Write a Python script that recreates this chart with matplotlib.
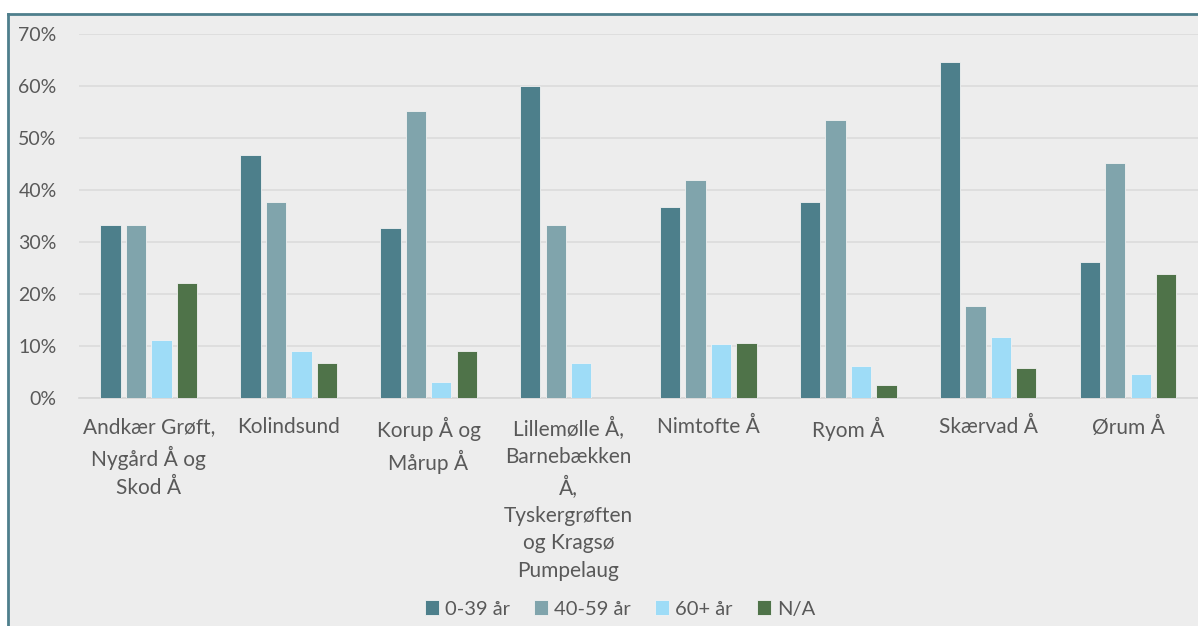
import matplotlib
matplotlib.use('Agg')
import matplotlib.pyplot as plt
import numpy as np
from matplotlib.lines import Line2D
from matplotlib.patches import Rectangle
from matplotlib.ticker import FuncFormatter

# Data (andel i %)
categories = [
    "Andkær Grøft,\nNygård Å og\nSkod Å",
    "Kolindsund",
    "Korup Å og\nMårup Å",
    "Lillemølle Å,\nBarnebækken\nÅ,\nTyskergrøften\nog Kragsø\nPumpelaug",
    "Nimtofte Å",
    "Ryom Å",
    "Skærvad Å",
    "Ørum Å",
]
series_names = ["0-39 år", "40-59 år", "60+ år", "N/A"]
age_0_39 = [33.3, 46.7, 32.7, 60.0, 36.8, 37.7, 64.7, 26.2]
age_40_59 = [33.3, 37.7, 55.2, 33.3, 42.0, 53.5, 17.7, 45.2]
age_60 = [11.1, 8.9, 3.0, 6.7, 10.4, 6.1, 11.7, 4.6]
age_na = [22.1, 6.7, 8.9, 0.0, 10.5, 2.4, 5.7, 23.8]
yticks = [0, 10, 20, 30, 40, 50, 60, 70]

colors = ['#4D7F8B', '#80A4AC', '#9EDCF7', '#4F7349']
bg = '#EDEDED'
txt = '#595959'

plt.rcParams['font.family'] = ['Lato', 'DejaVu Sans']

fig = plt.figure(figsize=(11.98, 6.26), dpi=100)
fig.patch.set_facecolor('white')

# chart area background + border (only left/top visible, chart is cropped)
W, H = 1198, 626
fig.add_artist(Rectangle((8 / W, -0.1), 1.2, 1 - 14 / H + 0.1,
                         transform=fig.transFigure, facecolor=bg,
                         edgecolor='none', zorder=0))
fig.add_artist(Line2D([8 / W, 8 / W], [0, 1 - 14 / H], transform=fig.transFigure,
                      color='#4E7F8C', lw=2))
fig.add_artist(Line2D([8 / W, 1], [1 - 14 / H, 1 - 14 / H], transform=fig.transFigure,
                      color='#4E7F8C', lw=2))

ax = fig.add_axes([78.8 / W, 1 - 397.7 / H, (1198 - 78.8) / W, (397.7 - 34.3) / H])
ax.set_facecolor('none')

x = np.arange(len(categories))
step = 0.182
width = 0.145
all_series = [age_0_39, age_40_59, age_60, age_na]
for i, (vals, name, c) in enumerate(zip(all_series, series_names, colors)):
    ax.bar(x + (i - 1.5) * step, vals, width, color=c, label=name,
           edgecolor='#F2F2F2', linewidth=0.6, zorder=3)

ax.set_xlim(-0.5, len(categories) - 0.5)
ax.set_ylim(0, 70)
ax.set_yticks(yticks)
ax.yaxis.set_major_formatter(FuncFormatter(lambda v, p: f"{v:.0f}%"))
ax.grid(axis='y', color='#DCDCDC', linewidth=1.2, zorder=0)
ax.set_axisbelow(True)
for s in ['top', 'right', 'left']:
    ax.spines[s].set_visible(False)
ax.spines['bottom'].set_color('#D6D6D6')
ax.spines['bottom'].set_linewidth(1.2)

ax.set_xticks(x)
ax.set_xticklabels(categories, fontsize=15, color=txt, va='top', linespacing=1.45)
ax.tick_params(axis='x', length=0, pad=14)
ax.tick_params(axis='y', length=0, pad=16, labelsize=14, labelcolor=txt)

leg = fig.legend(loc='center', bbox_to_anchor=(620 / W, 1 - 609 / H), ncol=4,
                 frameon=False, fontsize=14.5, handlelength=0.7, handleheight=0.7,
                 handletextpad=0.3, columnspacing=1.2, labelcolor=txt)

fig.savefig('out.png', dpi=100, facecolor='white')
